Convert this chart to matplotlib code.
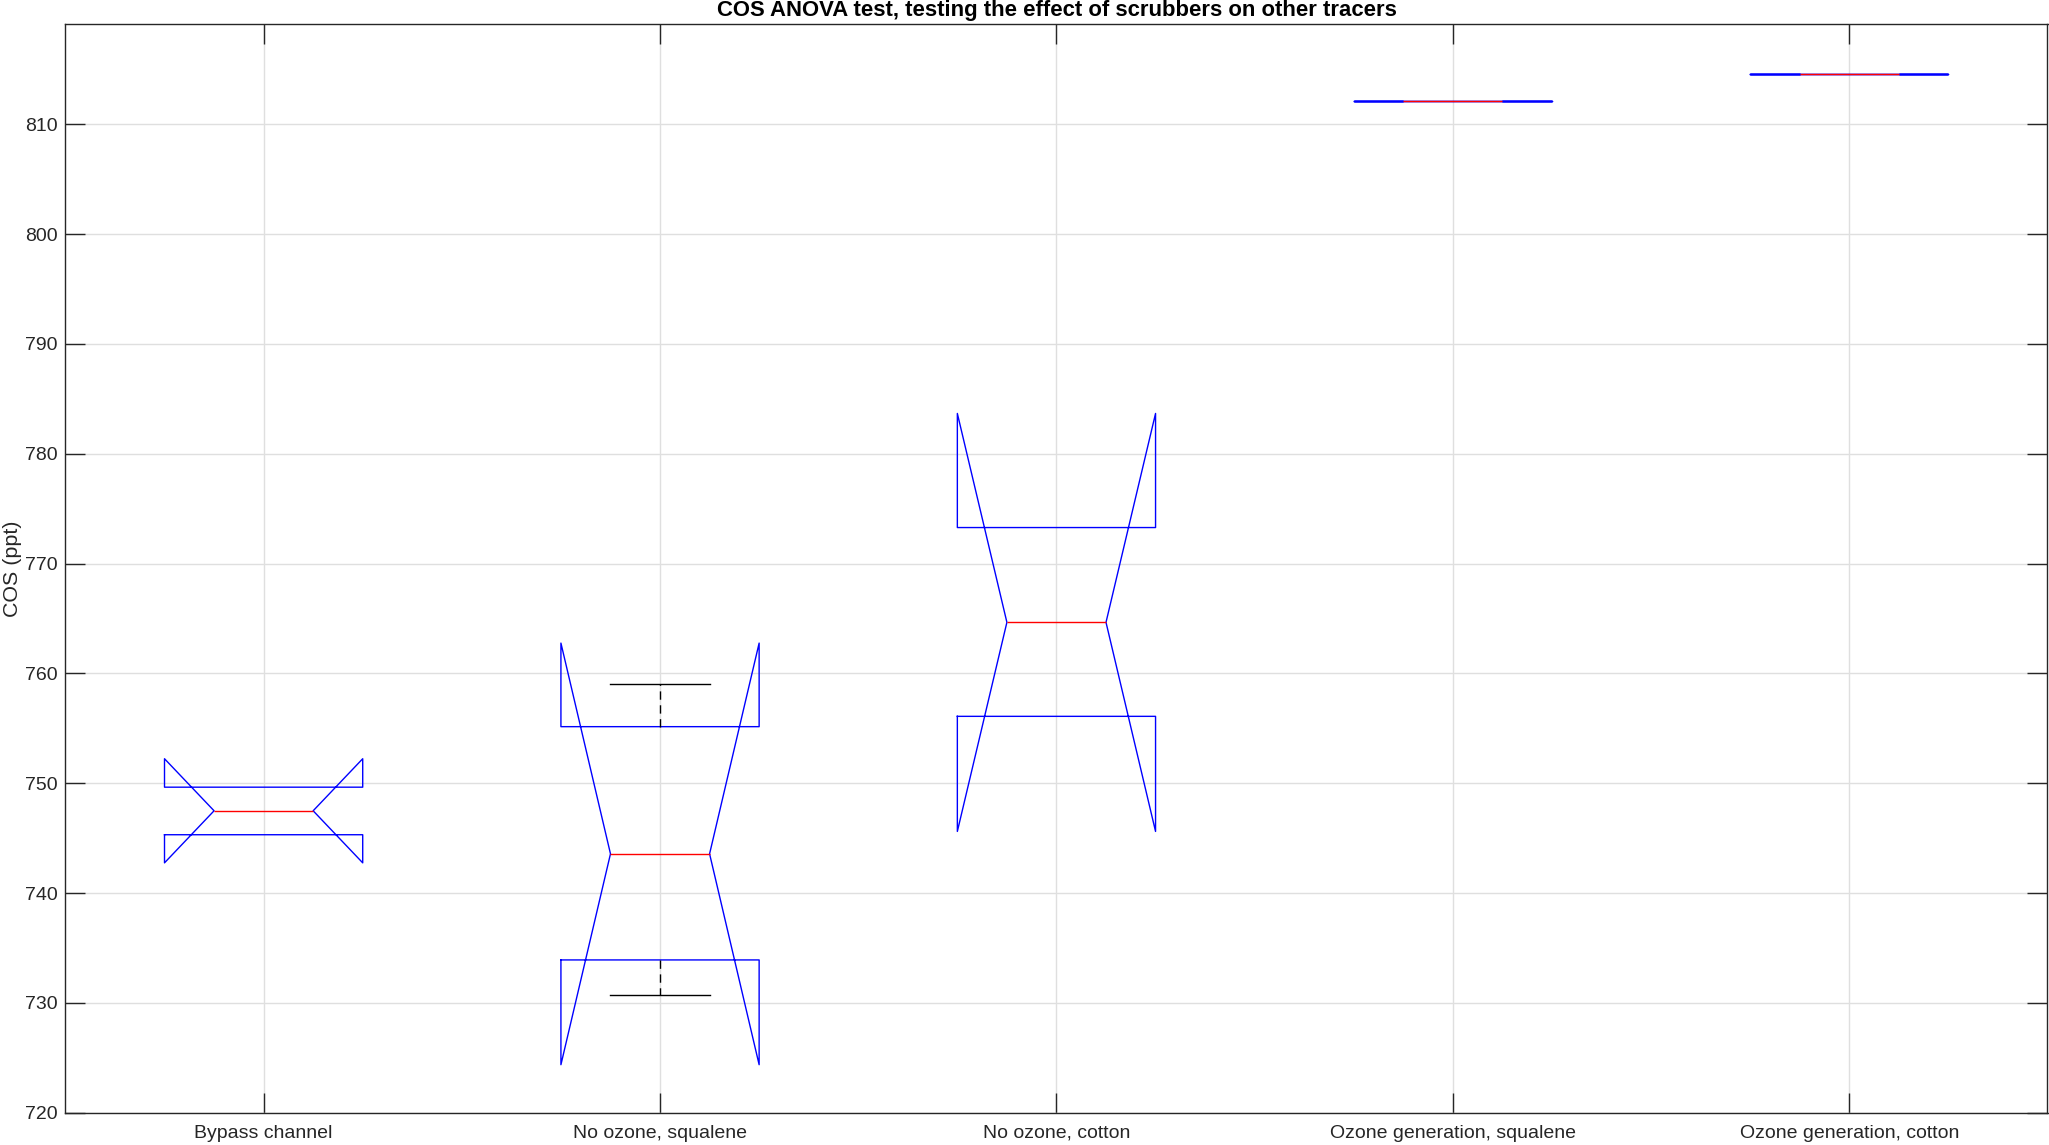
import matplotlib
matplotlib.use("Agg")
import matplotlib.pyplot as plt

plt.rcParams["font.family"] = ["Liberation Sans", "DejaVu Sans"]

# per-group box statistics (COS, ppt)
groups = ["Bypass channel", "No ozone, squalene", "No ozone, cotton",
          "Ozone generation, squalene", "Ozone generation, cotton"]
med    = [747.49, 743.57, 764.65, 812.15, 814.56]
q1     = [745.31, 733.91, 756.09, 812.15, 814.56]
q3     = [749.64, 755.15, 773.28, 812.15, 814.56]
whislo = [745.31, 730.73, 756.09, 812.15, 814.56]
whishi = [749.64, 759.00, 773.28, 812.15, 814.56]
ci_lo  = [742.75, 724.37, 745.61, 812.15, 814.56]
ci_hi  = [752.23, 762.76, 783.67, 812.15, 814.56]
yticks = list(range(720, 820, 10))

stats = []
for i, name in enumerate(groups):
    stats.append(dict(label=name, med=med[i], q1=q1[i], q3=q3[i],
                      whislo=whislo[i], whishi=whishi[i],
                      cilo=ci_lo[i], cihi=ci_hi[i], fliers=[]))

W, H = 2049, 1145
fig = plt.figure(figsize=(W / 100, H / 100), dpi=100)
ax = fig.add_axes([65.4 / W, 1 - 1112.7 / H, (2047.5 - 65.4) / W, (1112.7 - 24) / H])

pos = list(range(1, len(groups) + 1))
res = ax.bxp(stats, positions=pos, widths=0.5, shownotches=True, showfliers=False,
             capwidths=0.25,
             boxprops=dict(color="blue", lw=1),
             medianprops=dict(color="red", lw=1),
             whiskerprops=dict(color="black", lw=1, ls=(0, (6, 4))),
             capprops=dict(color="black", lw=1))

# whiskers that sit on the box edges are not shown in the reference
for i in range(len(groups)):
    if whislo[i] == q1[i]:
        res["whiskers"][2 * i].set_visible(False)
        res["caps"][2 * i].set_visible(False)
    if whishi[i] == q3[i]:
        res["whiskers"][2 * i + 1].set_visible(False)
        res["caps"][2 * i + 1].set_visible(False)

ax.set_xlim(0.5, len(groups) + 0.5)
ax.set_ylim(720, 819.13)
ax.set_xticks(pos)
ax.set_xticklabels(groups)
ax.set_yticks(yticks)

dark = "#262626"
for s in ax.spines.values():
    s.set_color(dark)
    s.set_linewidth(1)
ax.tick_params(direction="in", length=14.4, width=1, top=True, right=True,
               colors=dark, labelsize=14)
ax.tick_params(axis="x", pad=8.5)
ax.tick_params(axis="y", pad=5.5)
ax.set_axisbelow(True)
ax.grid(True, color="#dfdfdf", lw=1)

ax.set_ylabel("COS (ppt)", fontsize=15.4, color=dark, labelpad=2)
ax.set_title("COS ANOVA test, testing the effect of scrubbers on other tracers",
             fontsize=15.9, fontweight="bold", color="black", pad=5.5)

fig.savefig("out.png", dpi=100)
